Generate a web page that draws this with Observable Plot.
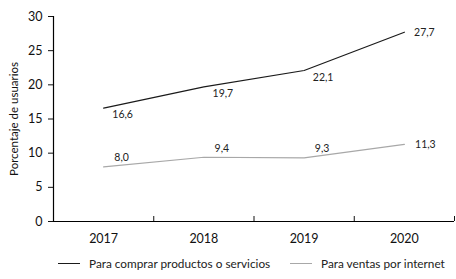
<!DOCTYPE html>
<html><head><meta charset="utf-8">
<script src="https://cdn.jsdelivr.net/npm/d3@7"></script>
<script src="https://cdn.jsdelivr.net/npm/@observablehq/plot@0.6"></script>
<style>
body{margin:0;background:#fff;font-family:Lato,"Noto Sans",sans-serif;}
#legend{position:relative;width:456px;height:29px;font-size:11.8px;color:#222;}
.item{position:absolute;top:6px;display:flex;align-items:center;}
.sw{width:22px;height:0;border-top:1.2px solid;margin-right:9px;}
</style></head><body>
<div id="chart"></div>
<div id="legend"></div>
<script>
const years = [2017, 2018, 2019, 2020];
const series = ["Para comprar productos o servicios", "Para ventas por internet"];
const comprar = [16.6, 19.7, 22.1, 27.7];
const ventas = [8.0, 9.4, 9.3, 11.3];
const yTicks = [0, 5, 10, 15, 20, 25, 30];
const colors = ["#1a1a1a", "#a8a8a8"];

const data = [];
years.forEach((y, i) => {
  data.push({year: y, value: comprar[i], serie: series[0]});
  data.push({year: y, value: ventas[i], serie: series[1]});
});
const fmt = d => d.value.toFixed(1).replace(".", ",");
const bounds = [years[0] - 0.5, ...years.map(y => y + 0.5)];
const last = years[years.length - 1];

const chart = Plot.plot({
  width: 456, height: 250,
  marginLeft: 53, marginRight: 2, marginTop: 16, marginBottom: 29,
  style: {fontFamily: "Lato, 'Noto Sans', sans-serif", fontSize: "12px", color: "#111"},
  x: {type: "linear", domain: [bounds[0], bounds[bounds.length - 1]], label: null},
  y: {domain: [0, 30], label: null},
  color: {domain: series, range: colors},
  marks: [
    Plot.axisY({ticks: yTicks, tickSize: 5, tickPadding: 6, fontSize: 12.5, label: null}),
    Plot.axisY({ticks: [], label: "Porcentaje de usuarios", labelArrow: "none", labelAnchor: "center", labelOffset: 44, fontSize: 11.5}),
    Plot.axisX({ticks: bounds, tickSize: 5, dy: -5, tickFormat: () => "", label: null}),
    Plot.axisX({ticks: years, tickSize: 0, tickPadding: 13, tickFormat: d => String(d), fontSize: 12.5, label: null}),
    Plot.ruleY([0], {stroke: "#000", strokeWidth: 1.2}),
    Plot.ruleX([bounds[0]], {y1: 0, y2: 30, stroke: "#000", strokeWidth: 1.2}),
    Plot.line(data, {x: "year", y: "value", z: "serie", stroke: "serie", strokeWidth: 1.2}),
    Plot.text(data.filter(d => d.serie === series[0] && d.year !== last), {x: "year", y: "value", text: fmt, dx: 19, dy: 7, fontSize: 10.5, fill: "#222"}),
    Plot.text(data.filter(d => d.serie === series[0] && d.year === last), {x: "year", y: "value", text: fmt, dx: 20, dy: 0, fontSize: 10.5, fill: "#222"}),
    Plot.text(data.filter(d => d.serie === series[1] && d.year !== last), {x: "year", y: "value", text: fmt, dx: 18, dy: -9, fontSize: 10.5, fill: "#222"}),
    Plot.text(data.filter(d => d.serie === series[1] && d.year === last), {x: "year", y: "value", text: fmt, dx: 21, dy: 0, fontSize: 10.5, fill: "#222"})
  ]
});
document.getElementById("chart").appendChild(chart);

const legend = document.getElementById("legend");
const lefts = [58, 290];
series.forEach((s, i) => {
  const it = document.createElement("div");
  it.className = "item";
  it.style.left = lefts[i] + "px";
  it.innerHTML = `<span class="sw" style="border-color:${colors[i]}"></span><span>${s}</span>`;
  legend.appendChild(it);
});
</script>
</body></html>
